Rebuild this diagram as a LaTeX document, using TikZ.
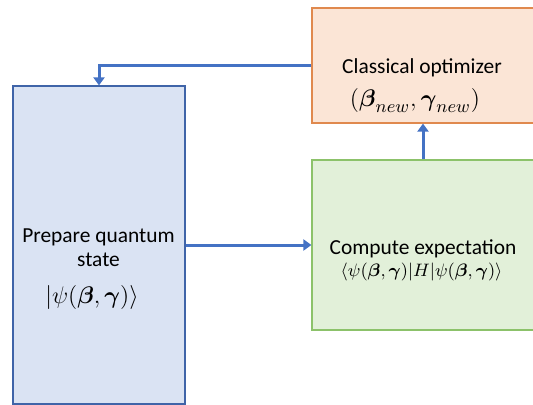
\documentclass[tikz,border=0pt]{standalone}
\usepackage{amsmath}
\usepackage{amssymb}
\usepackage{fontspec}
\setmainfont{Carlito}
\usetikzlibrary{arrows.meta}

\definecolor{prepfill}{HTML}{DAE3F3}
\definecolor{prepline}{HTML}{3F64A8}
\definecolor{optfill}{HTML}{FBE5D6}
\definecolor{optline}{HTML}{E0894E}
\definecolor{expfill}{HTML}{E2F0D9}
\definecolor{expline}{HTML}{8CC26A}
\definecolor{flowblue}{HTML}{4472C4}

\begin{document}
\begin{tikzpicture}[x=0.5pt,y=-0.5pt,
	box/.style={draw, line width=0.6pt, inner sep=0pt},
	txt/.style={anchor=base, inner sep=0pt, font=\fontsize{10.7}{13}\selectfont},
	flow/.style={draw=flowblue, line width=1.5pt, -{Triangle[length=4pt,width=5.5pt]}}]
	\useasboundingbox (0,0) rectangle (533,405);
	
	% boxes
	\node[box, draw=prepline, fill=prepfill, minimum width=86pt, minimum height=159pt] (prep) at (99,245) {};
	\node[box, draw=optline, fill=optfill, minimum width=111pt, minimum height=57.5pt] (optim) at (423,65.5) {};
	\node[box, draw=expline, fill=expfill, minimum width=111pt, minimum height=85pt] (expect) at (423,245) {};
	
	% texts
	\node[txt] (prep1) at (98.5,242) {Prepare quantum};
	\node[txt] (prep2) at (98.5,266) {state};
	\node[txt, font=\fontsize{12.4}{14}\selectfont] (prep3) at (92,303) {$|\psi(\boldsymbol{\beta},\boldsymbol{\gamma})\rangle$};
	\node[txt] (optim1) at (422,74) {Classical optimizer};
	\node[txt, font=\fontsize{12.7}{15}\selectfont] (optim2) at (415,107) {$(\boldsymbol{\beta}_{new},\boldsymbol{\gamma}_{new})$};
	\node[txt] (expect1) at (423,254) {Compute expectation};
	\node[txt, font=\fontsize{9.3}{11}\selectfont] (expect2) at (421.5,276) {$\langle\psi(\boldsymbol{\beta},\boldsymbol{\gamma})|H|\psi(\boldsymbol{\beta},\boldsymbol{\gamma})\rangle$};
	
	% connectors
	\path[flow] (prep) -- (expect);
	\path[flow] (expect) -- (optim);
	\path[flow] (optim.west) -| (prep.north);
\end{tikzpicture}
\end{document}
